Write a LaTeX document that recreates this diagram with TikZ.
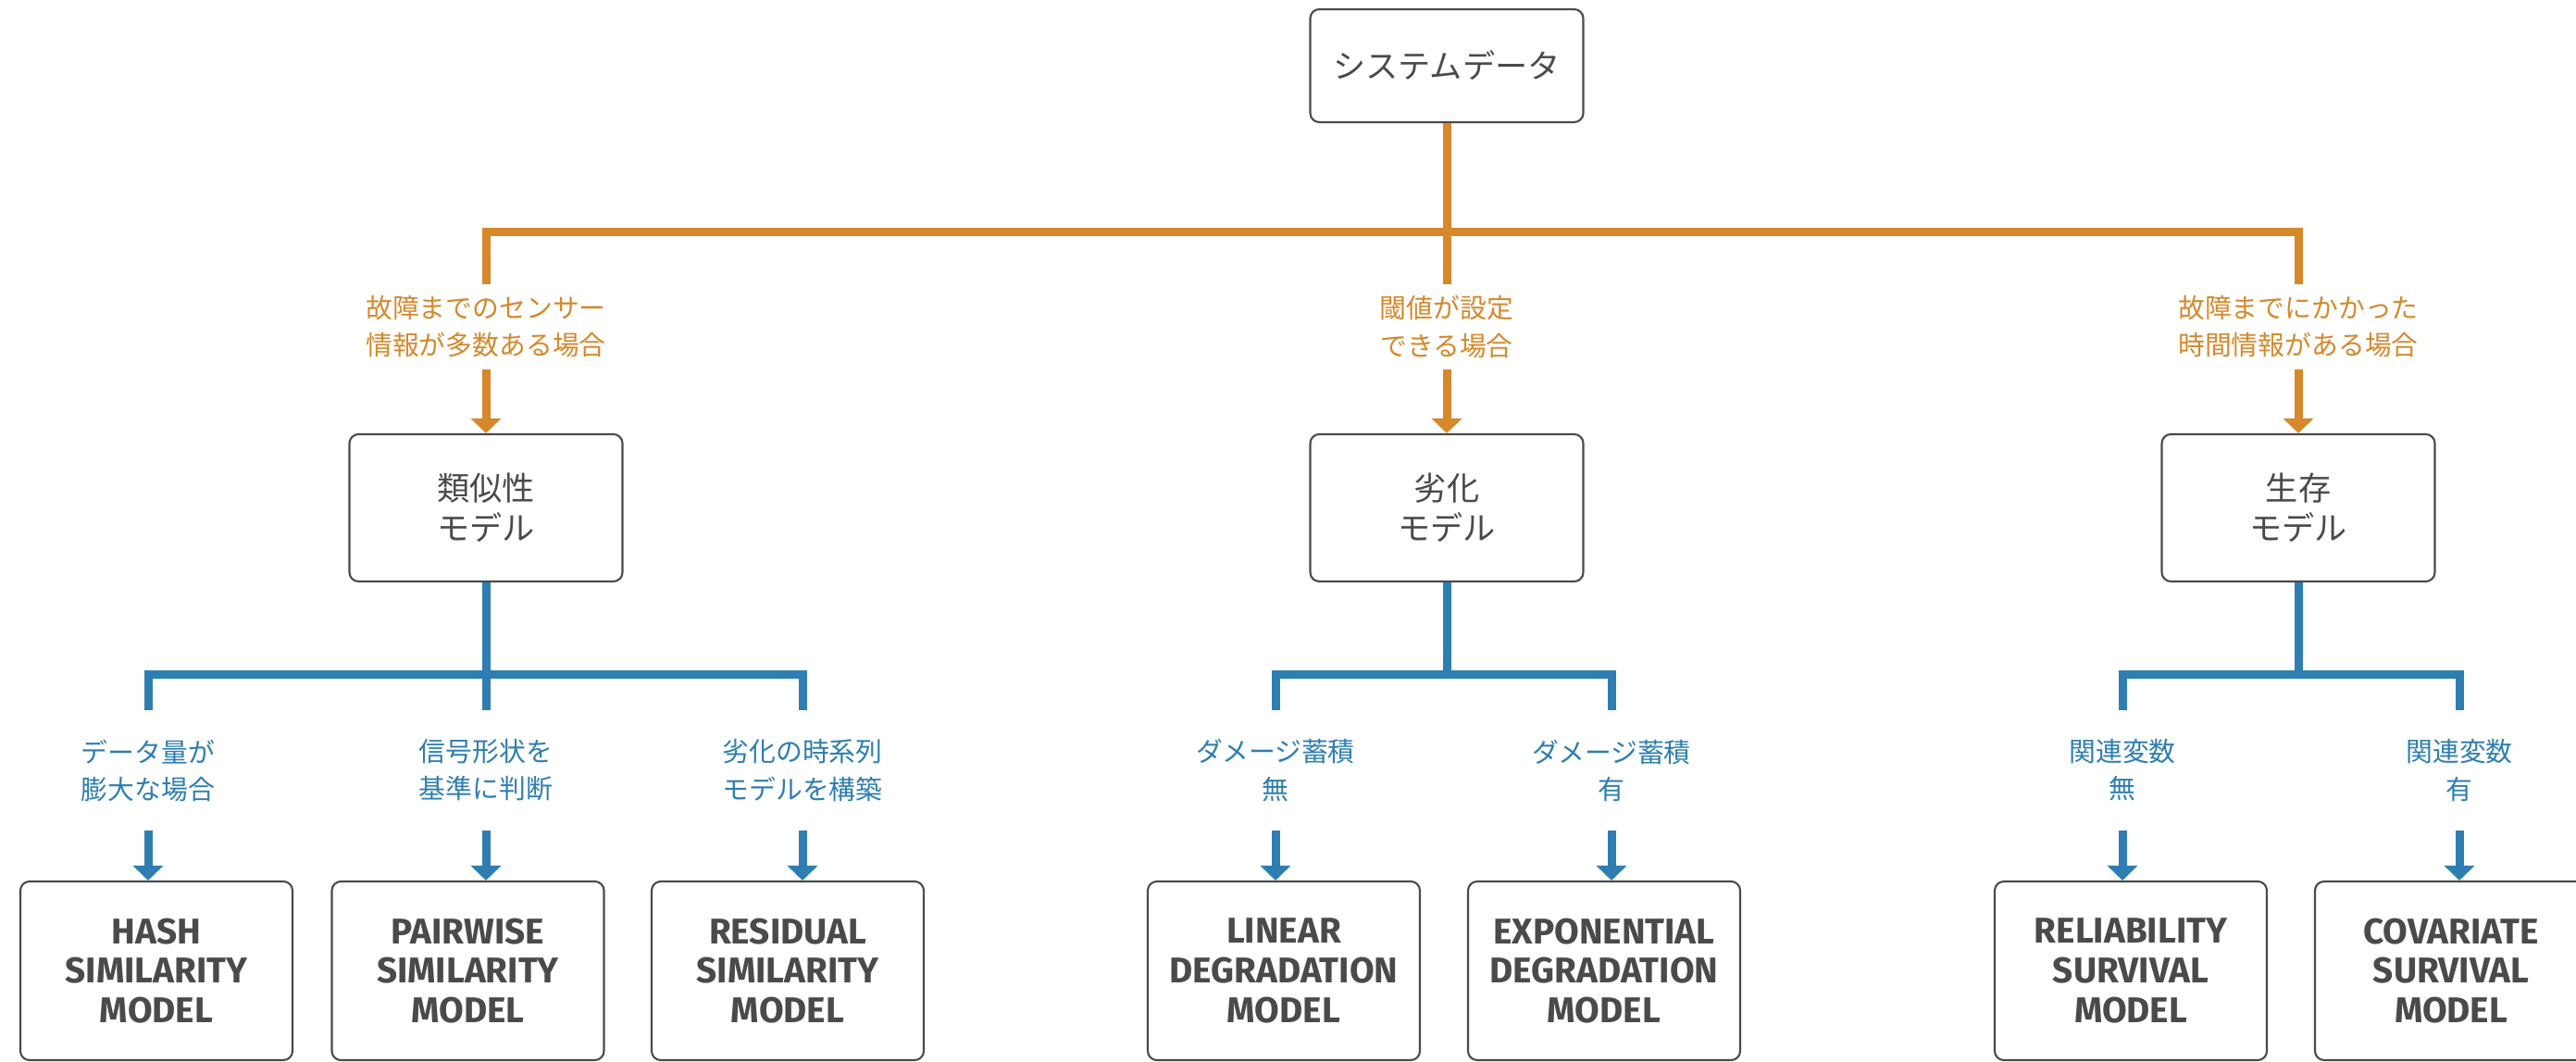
\documentclass[tikz,border=0pt]{standalone}
\usepackage{fontspec}
\setmainfont{Noto Sans CJK JP}
\newfontfamily\modelfont{Fira Sans}
\usepackage{xcolor}
\usepackage{tikz}
\usetikzlibrary{arrows.meta,positioning}
\definecolor{orng}{HTML}{D6882B}
\definecolor{blu}{HTML}{2E7EB1}
\definecolor{ink}{HTML}{4A4A4A}
\tikzset{
  box/.style={draw=ink, line width=0.6pt, rounded corners=2.8pt, minimum width=2.95cm, align=center, text=ink, inner sep=0pt},
  rootbox/.style={box, minimum height=1.22cm, font=\fontsize{10}{12.2}\selectfont},
  modbox/.style={box, minimum height=1.59cm, font=\fontsize{10}{12.2}\selectfont},
  leafbox/.style={box, minimum width=2.94cm, minimum height=1.93cm, font=\modelfont\bfseries\fontsize{11}{12.2}\selectfont},
  olbl/.style={align=center, inner sep=0pt, minimum height=0.9cm, text=orng, font=\fontsize{8.2}{11.4}\selectfont},
  blbl/.style={olbl, minimum height=1.28cm, text=blu},
  oline/.style={draw=orng, line width=2.56pt},
  bline/.style={draw=blu, line width=2.56pt},
  oarr/.style={oline, -{Triangle[width=3.2mm, length=1.6mm]}},
  barr/.style={bline, -{Triangle[width=3.2mm, length=1.6mm]}}
}
\begin{document}
\begin{tikzpicture}
\useasboundingbox (0,0) rectangle (27.83,-11.47);
\fill[white] (0,0) rectangle (27.83,-11.47);
\clip (0,0) rectangle (27.83,-11.47);
\node[rootbox] (sys) at (15.63,-0.71) {システムデータ};
\node[olbl] (lsim) at (5.25,-3.53) {故障までのセンサー\\情報が多数ある場合};
\node[olbl] (ldeg) at (15.63,-3.53) {閾値が設定\\できる場合};
\node[olbl] (lsurv) at (24.83,-3.53) {故障までにかかった\\時間情報がある場合};
\node[modbox] (sim) at (5.25,-5.485) {類似性\\モデル};
\node[modbox] (deg) at (15.63,-5.485) {劣化\\モデル};
\node[modbox] (surv) at (24.83,-5.485) {生存\\モデル};
\node[blbl] (lhash) at (1.60,-8.32) {データ量が\\膨大な場合};
\node[blbl] (lpair) at (5.25,-8.32) {信号形状を\\基準に判断};
\node[blbl] (lresid) at (8.67,-8.32) {劣化の時系列\\モデルを構築};
\node[blbl] (llin) at (13.78,-8.32) {ダメージ蓄積\\無};
\node[blbl] (lexpo) at (17.41,-8.32) {ダメージ蓄積\\有};
\node[blbl] (lrel) at (22.93,-8.32) {関連変数\\無};
\node[blbl] (lcov) at (26.57,-8.32) {関連変数\\有};
\node[leafbox] (hash) at (1.69,-10.485) {HASH\\SIMILARITY\\MODEL};
\node[leafbox] (pair) at (5.055,-10.485) {PAIRWISE\\SIMILARITY\\MODEL};
\node[leafbox] (resid) at (8.51,-10.485) {RESIDUAL\\SIMILARITY\\MODEL};
\node[leafbox] (lin) at (13.87,-10.485) {LINEAR\\DEGRADATION\\MODEL};
\node[leafbox] (expo) at (17.33,-10.485) {EXPONENTIAL\\DEGRADATION\\MODEL};
\node[leafbox] (rel) at (23.02,-10.485) {RELIABILITY\\SURVIVAL\\MODEL};
\node[leafbox] (cov) at (26.48,-10.485) {COVARIATE\\SURVIVAL\\MODEL};
\coordinate (ojoin) at (15.63,-2.51);
\coordinate (bsim) at (5.25,-7.29);
\coordinate (bdeg) at (15.63,-7.29);
\coordinate (bsurv) at (24.83,-7.29);
\draw[oline] (lsim.north) |- (ojoin) -| (lsurv.north);
\draw[oline] (sys) -- (ldeg);
\draw[oarr] (lsim) -- (sim);
\draw[oarr] (ldeg) -- (deg);
\draw[oarr] (lsurv) -- (surv);
\draw[bline] (lhash.north) |- (bsim) -| (lresid.north);
\draw[bline] (sim) -- (lpair);
\draw[bline] (llin.north) |- (bdeg) -| (lexpo.north);
\draw[bline] (deg) -- (bdeg);
\draw[bline] (lrel.north) |- (bsurv) -| (lcov.north);
\draw[bline] (surv) -- (bsurv);
\draw[barr] (lhash.south) -- (lhash.south |- hash.north);
\draw[barr] (lpair.south) -- (lpair.south |- pair.north);
\draw[barr] (lresid.south) -- (lresid.south |- resid.north);
\draw[barr] (llin.south) -- (llin.south |- lin.north);
\draw[barr] (lexpo.south) -- (lexpo.south |- expo.north);
\draw[barr] (lrel.south) -- (lrel.south |- rel.north);
\draw[barr] (lcov.south) -- (lcov.south |- cov.north);
\end{tikzpicture}
\end{document}
